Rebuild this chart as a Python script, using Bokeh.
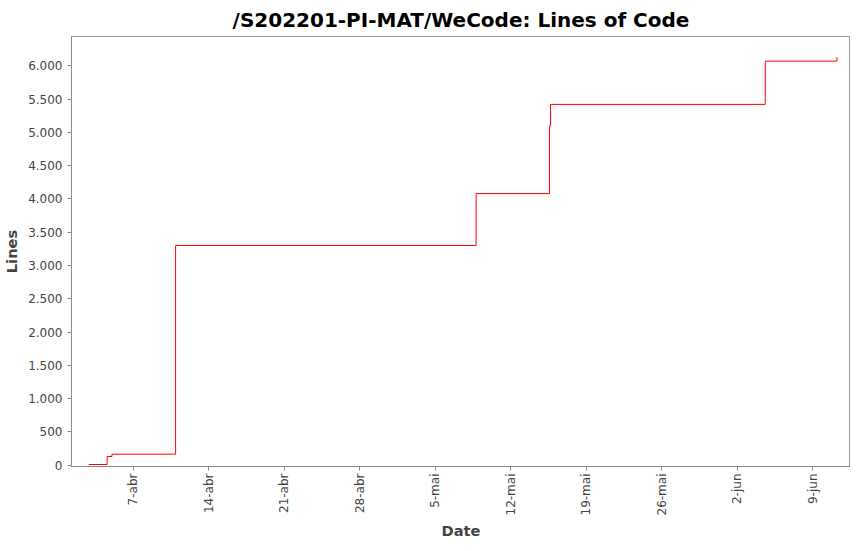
from datetime import datetime, timedelta
from bokeh.plotting import figure
from bokeh.models import Range1d, FixedTicker, CustomJSTickFormatter
from bokeh.embed import file_html
from bokeh.resources import INLINE
import math

base = datetime(2022, 4, 7)
day_offsets = [-4.1, -2.4, -1.95, 3.95, 31.8, 38.6, 38.7, 58.6, 65.2, 65.25]
lines = [10, 130, 165, 3300, 4080, 5100, 5420, 6070, 6070, 6130]
tick_labels = ["7-abr", "14-abr", "21-abr", "28-abr", "5-mai", "12-mai", "19-mai", "26-mai", "2-jun", "9-jun"]
tick_days = [0, 7, 14, 21, 28, 35, 42, 49, 56, 63]
y_ticks = list(range(0, 6001, 500))

def ms(d):
    return (base + timedelta(days=d) - datetime(1970, 1, 1)).total_seconds() * 1000

xs = [ms(d) for d in day_offsets]
F = "DejaVu Sans"
p = figure(width=850, height=542, output_backend="svg", toolbar_location=None,
           x_axis_type="datetime", title="/S202201-PI-MAT/WeCode: Lines of Code",
           x_range=Range1d(ms(-5.7), ms(66.5)), y_range=Range1d(-20, 6440),
           min_border_left=60, min_border_right=0, min_border_top=34, min_border_bottom=0)
p.step(xs, lines, mode="after", color="red", line_width=1)
p.title.align = "center"
p.title.text_font = F
p.title.text_font_size = "15pt"
p.title.text_font_style = "bold"
p.title.text_color = "black"
p.xgrid.visible = False
p.ygrid.visible = False
p.outline_line_color = "#999999"
tv = [ms(d) for d in tick_days]
p.xaxis.ticker = FixedTicker(ticks=tv)
p.xaxis.major_label_overrides = {t: l for t, l in zip(tv, tick_labels)}
p.xaxis.major_label_orientation = math.pi / 2
p.xaxis.major_label_standoff = 3
p.xaxis.axis_label_standoff = 4
p.yaxis.ticker = FixedTicker(ticks=y_ticks)
p.yaxis.formatter = CustomJSTickFormatter(code="return tick.toFixed(0).replace(/\\B(?=(\\d{3})+(?!\\d))/g, '.');")
p.xaxis.axis_label = "Date"
p.yaxis.axis_label = "Lines"
for ax in (p.xaxis, p.yaxis):
    ax.axis_label_text_font = F
    ax.axis_label_text_font_style = "bold"
    ax.axis_label_text_font_size = "11pt"
    ax.axis_label_text_color = "#444444"
    ax.major_label_text_font = F
    ax.major_label_text_font_size = "9pt"
    ax.major_label_text_color = "#444444"
    ax.axis_line_color = "#888888"
    ax.major_tick_line_color = "#888888"
    ax.minor_tick_line_color = None
    ax.major_tick_in = 0
    ax.major_tick_out = 4
open("out.html", "w").write(file_html(p, INLINE))
